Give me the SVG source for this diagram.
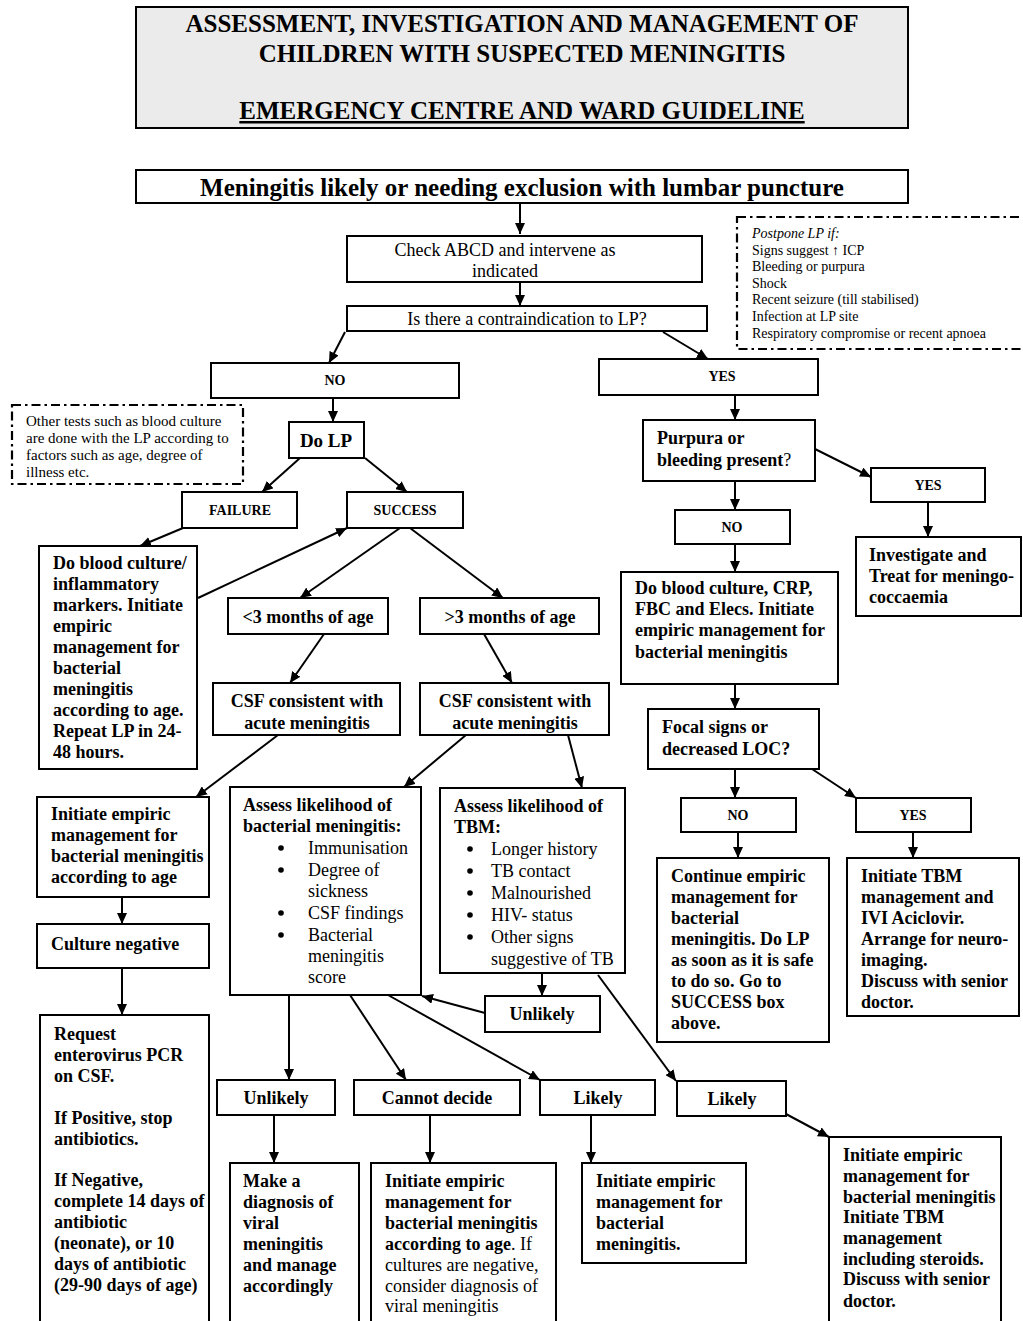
<svg xmlns="http://www.w3.org/2000/svg" width="1023" height="1321" viewBox="0 0 1023 1321">
<defs>
<marker id="ah" markerUnits="userSpaceOnUse" markerWidth="12" markerHeight="10" refX="11" refY="5" orient="auto">
<path d="M0,0 L11,5 L0,10 z" fill="#000"/>
</marker>
<style>
.box{fill:#fff;stroke:#000;stroke-width:2}
.dd{fill:none;stroke:#000;stroke-width:2.2;stroke-dasharray:9 4 2.5 4}
text{font-family:"Liberation Serif","Times New Roman",serif;fill:#000}
.t{font-size:25px;font-weight:bold;text-anchor:middle}
.b{font-size:18px;font-weight:bold}
.r{font-size:18px}
.bm{font-size:18px;font-weight:bold;text-anchor:middle}
.rm{font-size:18px;text-anchor:middle}
.s{font-size:14px;font-weight:bold;text-anchor:middle}
.n{font-size:15px}
.p{font-size:14px}
#conn line{stroke:#000;stroke-width:2;marker-end:url(#ah)}
</style>
</defs>
<rect width="1023" height="1321" fill="#fff"/>

<g id="title">
<rect x="136" y="7" width="772" height="121" fill="#ebebeb" stroke="#000" stroke-width="2"/>
<text class="t" x="522" y="32">ASSESSMENT, INVESTIGATION AND MANAGEMENT OF</text>
<text class="t" x="522" y="62">CHILDREN WITH SUSPECTED MENINGITIS</text>
<text class="t" x="522" y="119" text-decoration="underline">EMERGENCY CENTRE AND WARD GUIDELINE</text>
</g>

<g id="start">
<rect class="box" x="136" y="170" width="772" height="33"/>
<text class="t" x="522" y="196">Meningitis likely or needing exclusion with lumbar puncture</text>
</g>

<g id="abcd">
<rect class="box" x="347" y="236" width="355" height="46"/>
<text class="rm" x="505" y="256">Check ABCD and intervene as</text>
<text class="rm" x="505" y="277">indicated</text>
</g>

<g id="contra">
<rect class="box" x="347" y="306" width="360" height="25"/>
<text class="rm" x="527" y="325">Is there a contraindication to LP?</text>
</g>

<g id="postpone">
<rect class="dd" x="737" y="217" width="300" height="132"/>
<text class="p" x="752" y="238" font-style="italic">Postpone LP if:</text>
<text class="p" x="752" y="255">Signs suggest ↑ ICP</text>
<text class="p" x="752" y="271">Bleeding or purpura</text>
<text class="p" x="752" y="288">Shock</text>
<text class="p" x="752" y="304">Recent seizure (till stabilised)</text>
<text class="p" x="752" y="321">Infection at LP site</text>
<text class="p" x="752" y="338">Respiratory compromise or recent apnoea</text>
</g>

<g id="no1">
<rect class="box" x="211" y="363" width="248" height="35"/>
<text class="s" x="335" y="385">NO</text>
</g>

<g id="yes1">
<rect class="box" x="599" y="359" width="219" height="36"/>
<text class="s" x="722" y="381">YES</text>
</g>

<g id="note">
<rect class="dd" x="12" y="405" width="231" height="79"/>
<text class="n" x="26" y="426">Other tests such as blood culture</text>
<text class="n" x="26" y="443">are done with the LP according to</text>
<text class="n" x="26" y="460">factors such as age, degree of</text>
<text class="n" x="26" y="477">illness etc.</text>
</g>

<g id="dolp">
<rect class="box" x="289" y="422" width="75" height="36"/>
<text class="bm" x="326" y="447" style="font-size:19px">Do LP</text>
</g>

<g id="failure">
<rect class="box" x="182" y="492" width="115" height="36"/>
<text class="s" x="240" y="515">FAILURE</text>
</g>

<g id="success">
<rect class="box" x="347" y="492" width="116" height="36"/>
<text class="s" x="405" y="515">SUCCESS</text>
</g>

<g id="failbox">
<rect class="box" x="39" y="546" width="158" height="223"/>
<text class="b" x="53" y="569">Do blood culture/</text>
<text class="b" x="53" y="590">inflammatory</text>
<text class="b" x="53" y="611">markers. Initiate</text>
<text class="b" x="53" y="632">empiric</text>
<text class="b" x="53" y="653">management for</text>
<text class="b" x="53" y="674">bacterial</text>
<text class="b" x="53" y="695">meningitis</text>
<text class="b" x="53" y="716">according to age.</text>
<text class="b" x="53" y="737">Repeat LP in 24-</text>
<text class="b" x="53" y="758">48 hours.</text>
</g>

<g id="lt3">
<rect class="box" x="228" y="598" width="160" height="36"/>
<text class="bm" x="308" y="623">&lt;3 months of age</text>
</g>

<g id="gt3">
<rect class="box" x="420" y="598" width="179" height="36"/>
<text class="bm" x="510" y="623">&gt;3 months of age</text>
</g>

<g id="csf1">
<rect class="box" x="213" y="683" width="187" height="52"/>
<text class="bm" x="307" y="707">CSF consistent with</text>
<text class="bm" x="307" y="729">acute meningitis</text>
</g>

<g id="csf2">
<rect class="box" x="420" y="683" width="189" height="52"/>
<text class="bm" x="515" y="707">CSF consistent with</text>
<text class="bm" x="515" y="729">acute meningitis</text>
</g>

<g id="initL">
<rect class="box" x="37" y="797" width="172" height="100"/>
<text class="b" x="51" y="820">Initiate empiric</text>
<text class="b" x="51" y="841">management for</text>
<text class="b" x="51" y="862">bacterial meningitis</text>
<text class="b" x="51" y="883">according to age</text>
</g>

<g id="cultneg">
<rect class="box" x="37" y="924" width="172" height="44"/>
<text class="b" x="51" y="950">Culture negative</text>
</g>

<g id="request">
<rect class="box" x="40" y="1015" width="169" height="330"/>
<text class="b" x="54" y="1040">Request</text>
<text class="b" x="54" y="1061">enterovirus PCR</text>
<text class="b" x="54" y="1082">on CSF.</text>
<text class="b" x="54" y="1124">If Positive, stop</text>
<text class="b" x="54" y="1145">antibiotics.</text>
<text class="b" x="54" y="1186">If Negative,</text>
<text class="b" x="54" y="1207">complete 14 days of</text>
<text class="b" x="54" y="1228">antibiotic</text>
<text class="b" x="54" y="1249">(neonate), or 10</text>
<text class="b" x="54" y="1270">days of antibiotic</text>
<text class="b" x="54" y="1291">(29-90 days of age)</text>
</g>

<g id="assessBact">
<rect class="box" x="230" y="787" width="191" height="208"/>
<text class="b" x="243" y="811">Assess likelihood of</text>
<text class="b" x="243" y="832">bacterial meningitis:</text>
<circle cx="281" cy="848" r="2.8"/>
<circle cx="281" cy="870" r="2.8"/>
<circle cx="281" cy="913" r="2.8"/>
<circle cx="281" cy="935" r="2.8"/>
<text class="r" x="308" y="854">Immunisation</text>
<text class="r" x="308" y="876">Degree of</text>
<text class="r" x="308" y="897">sickness</text>
<text class="r" x="308" y="919">CSF findings</text>
<text class="r" x="308" y="941">Bacterial</text>
<text class="r" x="308" y="962">meningitis</text>
<text class="r" x="308" y="983">score</text>
</g>

<g id="assessTBM">
<rect class="box" x="440" y="788" width="185" height="185"/>
<text class="b" x="454" y="812">Assess likelihood of</text>
<text class="b" x="454" y="833">TBM:</text>
<circle cx="470" cy="849" r="2.8"/>
<circle cx="470" cy="871" r="2.8"/>
<circle cx="470" cy="893" r="2.8"/>
<circle cx="470" cy="915" r="2.8"/>
<circle cx="470" cy="937" r="2.8"/>
<text class="r" x="491" y="855">Longer history</text>
<text class="r" x="491" y="877">TB contact</text>
<text class="r" x="491" y="899">Malnourished</text>
<text class="r" x="491" y="921">HIV- status</text>
<text class="r" x="491" y="943">Other signs</text>
<text class="r" x="491" y="965">suggestive of TB</text>
</g>

<g id="unlikelyTBM">
<rect class="box" x="485" y="996" width="115" height="36"/>
<text class="bm" x="542" y="1020">Unlikely</text>
</g>

<g id="unlikely">
<rect class="box" x="217" y="1080" width="118" height="35"/>
<text class="bm" x="276" y="1104">Unlikely</text>
</g>

<g id="cannot">
<rect class="box" x="354" y="1080" width="166" height="35"/>
<text class="bm" x="437" y="1104">Cannot decide</text>
</g>

<g id="likely1">
<rect class="box" x="540" y="1080" width="115" height="35"/>
<text class="bm" x="598" y="1104">Likely</text>
</g>

<g id="likely2">
<rect class="box" x="677" y="1081" width="109" height="35"/>
<text class="bm" x="732" y="1105">Likely</text>
</g>

<g id="viral">
<rect class="box" x="230" y="1163" width="129" height="180"/>
<text class="b" x="243" y="1187">Make a</text>
<text class="b" x="243" y="1208">diagnosis of</text>
<text class="b" x="243" y="1229">viral</text>
<text class="b" x="243" y="1250">meningitis</text>
<text class="b" x="243" y="1271">and manage</text>
<text class="b" x="243" y="1292">accordingly</text>
</g>

<g id="initCD">
<rect class="box" x="371" y="1163" width="185" height="180"/>
<text class="b" x="385" y="1187">Initiate empiric</text>
<text class="b" x="385" y="1208">management for</text>
<text class="b" x="385" y="1229">bacterial meningitis</text>
<text class="r" x="385" y="1250"><tspan font-weight="bold">according to age</tspan>. If</text>
<text class="r" x="385" y="1271">cultures are negative,</text>
<text class="r" x="385" y="1292">consider diagnosis of</text>
<text class="r" x="385" y="1312">viral meningitis</text>
</g>

<g id="initLikely">
<rect class="box" x="582" y="1163" width="164" height="100"/>
<text class="b" x="596" y="1187">Initiate empiric</text>
<text class="b" x="596" y="1208">management for</text>
<text class="b" x="596" y="1229">bacterial</text>
<text class="b" x="596" y="1250">meningitis.</text>
</g>

<g id="initBoth">
<rect class="box" x="829" y="1137" width="172" height="200"/>
<text class="b" x="843" y="1161">Initiate empiric</text>
<text class="b" x="843" y="1182">management for</text>
<text class="b" x="843" y="1203">bacterial meningitis</text>
<text class="b" x="843" y="1223">Initiate TBM</text>
<text class="b" x="843" y="1244">management</text>
<text class="b" x="843" y="1265">including steroids.</text>
<text class="b" x="843" y="1285">Discuss with senior</text>
<text class="b" x="843" y="1307">doctor.</text>
</g>

<g id="purpura">
<rect class="box" x="643" y="420" width="172" height="61"/>
<text class="b" x="657" y="444">Purpura or</text>
<text class="b" x="657" y="466">bleeding present<tspan font-weight="normal">?</tspan></text>
</g>

<g id="yes2">
<rect class="box" x="871" y="468" width="114" height="34"/>
<text class="s" x="928" y="490">YES</text>
</g>

<g id="investigate">
<rect class="box" x="856" y="537" width="165" height="79"/>
<text class="b" x="869" y="561">Investigate and</text>
<text class="b" x="869" y="582">Treat for meningo-</text>
<text class="b" x="869" y="603">coccaemia</text>
</g>

<g id="no2">
<rect class="box" x="675" y="510" width="115" height="34"/>
<text class="s" x="732" y="532">NO</text>
</g>

<g id="doblood">
<rect class="box" x="621" y="572" width="217" height="112"/>
<text class="b" x="635" y="594">Do blood culture, CRP,</text>
<text class="b" x="635" y="615">FBC and Elecs. Initiate</text>
<text class="b" x="635" y="636">empiric management for</text>
<text class="b" x="635" y="658">bacterial meningitis</text>
</g>

<g id="focal">
<rect class="box" x="648" y="709" width="171" height="60"/>
<text class="b" x="662" y="733">Focal signs or</text>
<text class="b" x="662" y="755">decreased LOC?</text>
</g>

<g id="no3">
<rect class="box" x="681" y="798" width="115" height="34"/>
<text class="s" x="738" y="820">NO</text>
</g>

<g id="yes3">
<rect class="box" x="856" y="798" width="115" height="34"/>
<text class="s" x="913" y="820">YES</text>
</g>

<g id="continue">
<rect class="box" x="657" y="858" width="172" height="184"/>
<text class="b" x="671" y="882">Continue empiric</text>
<text class="b" x="671" y="903">management for</text>
<text class="b" x="671" y="924">bacterial</text>
<text class="b" x="671" y="945">meningitis. Do LP</text>
<text class="b" x="671" y="966">as soon as it is safe</text>
<text class="b" x="671" y="987">to do so. Go to</text>
<text class="b" x="671" y="1008">SUCCESS box</text>
<text class="b" x="671" y="1029">above.</text>
</g>

<g id="tbmInit">
<rect class="box" x="847" y="858" width="172" height="158"/>
<text class="b" x="861" y="882">Initiate TBM</text>
<text class="b" x="861" y="903">management and</text>
<text class="b" x="861" y="924">IVI Aciclovir.</text>
<text class="b" x="861" y="945">Arrange for neuro-</text>
<text class="b" x="861" y="966">imaging.</text>
<text class="b" x="861" y="987">Discuss with senior</text>
<text class="b" x="861" y="1008">doctor.</text>
</g>

<g id="conn">
<line x1="520" y1="204" x2="520" y2="234"/>
<line x1="520" y1="282" x2="520" y2="306"/>
<line x1="345" y1="332" x2="329" y2="363"/>
<line x1="663" y1="332" x2="708" y2="359"/>
<line x1="333" y1="398" x2="333" y2="422"/>
<line x1="300" y1="458" x2="262" y2="492"/>
<line x1="365" y1="458" x2="407" y2="492"/>
<line x1="183" y1="528" x2="140" y2="546"/>
<line x1="198" y1="598" x2="347" y2="528"/>
<line x1="400" y1="528" x2="300" y2="598"/>
<line x1="410" y1="528" x2="503" y2="598"/>
<line x1="324" y1="634" x2="290" y2="683"/>
<line x1="484" y1="634" x2="512" y2="683"/>
<line x1="278" y1="735" x2="196" y2="797"/>
<line x1="466" y1="735" x2="404" y2="787"/>
<line x1="568" y1="735" x2="582" y2="788"/>
<line x1="122" y1="897" x2="122" y2="924"/>
<line x1="122" y1="968" x2="122" y2="1015"/>
<line x1="542" y1="973" x2="542" y2="996"/>
<line x1="485" y1="1013" x2="422" y2="996"/>
<line x1="598" y1="975" x2="676" y2="1081"/>
<line x1="289" y1="995" x2="289" y2="1080"/>
<line x1="350" y1="995" x2="406" y2="1080"/>
<line x1="388" y1="995" x2="540" y2="1080"/>
<line x1="274" y1="1115" x2="274" y2="1163"/>
<line x1="430" y1="1115" x2="430" y2="1163"/>
<line x1="591" y1="1115" x2="591" y2="1163"/>
<line x1="786" y1="1114" x2="829" y2="1137"/>
<line x1="735" y1="395" x2="735" y2="420"/>
<line x1="815" y1="449" x2="871" y2="477"/>
<line x1="928" y1="502" x2="928" y2="537"/>
<line x1="735" y1="481" x2="735" y2="510"/>
<line x1="735" y1="544" x2="735" y2="572"/>
<line x1="735" y1="684" x2="735" y2="709"/>
<line x1="735" y1="769" x2="735" y2="798"/>
<line x1="812" y1="769" x2="856" y2="798"/>
<line x1="738" y1="832" x2="738" y2="858"/>
<line x1="913" y1="832" x2="913" y2="858"/>
</g>
</svg>
